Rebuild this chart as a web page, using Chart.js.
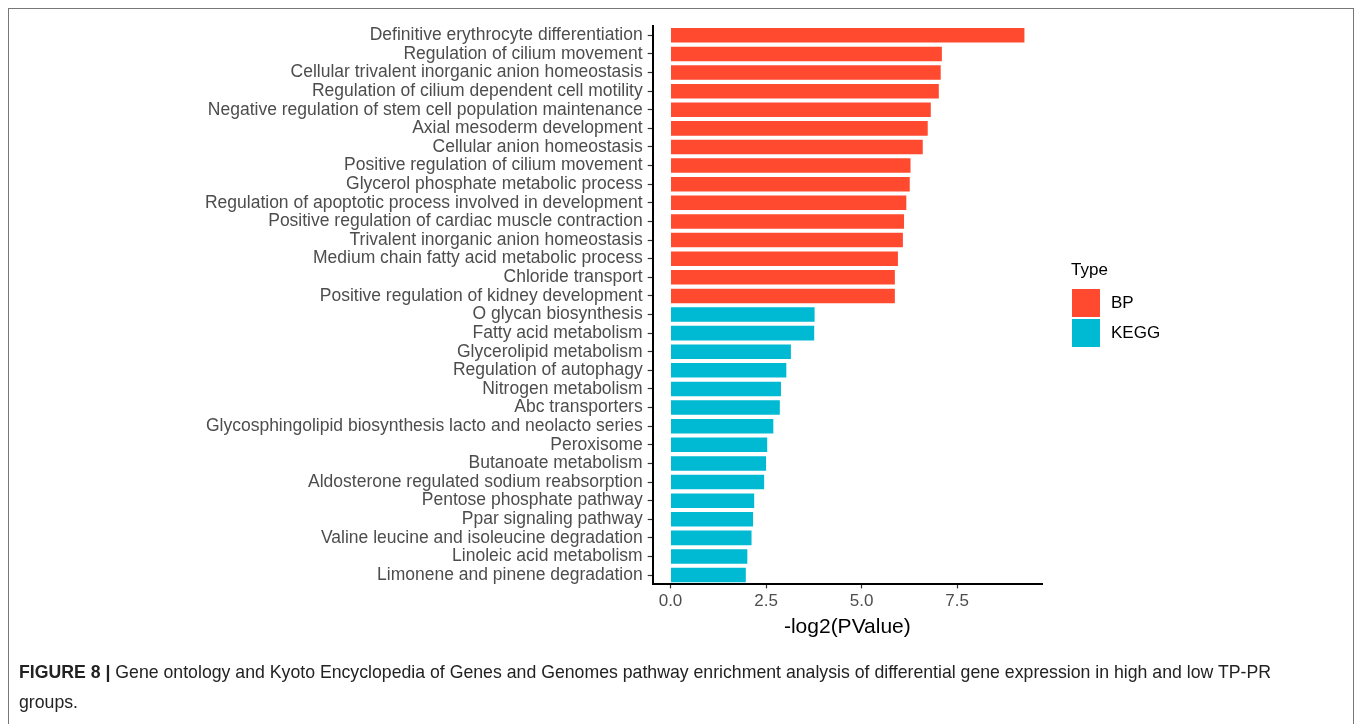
<!DOCTYPE html>
<html>
<head>
<meta charset="utf-8">
<title>Enrichment analysis</title>
<script src="https://cdn.jsdelivr.net/npm/chart.js@4.4.0/dist/chart.umd.min.js"></script>
<style>
    html, body { margin: 0; padding: 0; background: #fff; }
    body { width: 1355px; height: 724px; position: relative; overflow: hidden; font-family: "Liberation Sans", Arial, sans-serif; }
    #frame { position: absolute; left: 8px; top: 8px; width: 1344px; height: 740px; border: 1.5px solid #777; border-bottom: none; }
    #wrap { position: absolute; left: 0; top: 0; width: 1355px; height: 724px; }
    #caption { position: absolute; left: 19px; top: 657px; width: 1300px; font-size: 17.7px; line-height: 30px; color: #222; }
</style>
</head>
<body>
<div id="frame"></div>
<div id="wrap"><canvas id="chart"></canvas></div>
<div id="caption"><b>FIGURE 8 |</b> Gene ontology and Kyoto Encyclopedia of Genes and Genomes pathway enrichment analysis of differential gene expression in high and low TP-PR groups.</div>

<script>
const terms = [
    'Definitive erythrocyte differentiation',
    'Regulation of cilium movement',
    'Cellular trivalent inorganic anion homeostasis',
    'Regulation of cilium dependent cell motility',
    'Negative regulation of stem cell population maintenance',
    'Axial mesoderm development',
    'Cellular anion homeostasis',
    'Positive regulation of cilium movement',
    'Glycerol phosphate metabolic process',
    'Regulation of apoptotic process involved in development',
    'Positive regulation of cardiac muscle contraction',
    'Trivalent inorganic anion homeostasis',
    'Medium chain fatty acid metabolic process',
    'Chloride transport',
    'Positive regulation of kidney development',
    'O glycan biosynthesis',
    'Fatty acid metabolism',
    'Glycerolipid metabolism',
    'Regulation of autophagy',
    'Nitrogen metabolism',
    'Abc transporters',
    'Glycosphingolipid biosynthesis lacto and neolacto series',
    'Peroxisome',
    'Butanoate metabolism',
    'Aldosterone regulated sodium reabsorption',
    'Pentose phosphate pathway',
    'Ppar signaling pathway',
    'Valine leucine and isoleucine degradation',
    'Linoleic acid metabolism',
    'Limonene and pinene degradation'
];

const negLog2P = [
    9.26, 7.10, 7.07, 7.02, 6.81, 6.73, 6.60, 6.28, 6.26, 6.17,
    6.11, 6.08, 5.95, 5.87, 5.87, 3.77, 3.76, 3.15, 3.03, 2.89,
    2.86, 2.69, 2.53, 2.50, 2.45, 2.19, 2.16, 2.12, 2.01, 1.97
];

const types = [
    'BP', 'BP', 'BP', 'BP', 'BP', 'BP', 'BP', 'BP', 'BP', 'BP',
    'BP', 'BP', 'BP', 'BP', 'BP', 'KEGG', 'KEGG', 'KEGG', 'KEGG', 'KEGG',
    'KEGG', 'KEGG', 'KEGG', 'KEGG', 'KEGG', 'KEGG', 'KEGG', 'KEGG', 'KEGG', 'KEGG'
];

const typeNames = ['BP', 'KEGG'];
const typeColors = ['#FF4A2F', '#00B9D3'];
const xTicks = [0, 2.5, 5, 7.5];

const FONT = '"Liberation Sans", Arial, sans-serif';

// ggplot-style legend drawn next to the panel
const typeLegend = {
    id: 'typeLegend',
    afterDraw(chart) {
        const ctx = chart.ctx;
        ctx.save();
        ctx.fillStyle = '#000';
        ctx.font = `17px ${FONT}`;
        ctx.textBaseline = 'middle';
        ctx.textAlign = 'left';
        ctx.fillText('Type', 1071, 270);
        typeNames.forEach((name, i) => {
            const y = 289 + i * 30;
            ctx.fillStyle = typeColors[i];
            ctx.fillRect(1072, y, 28, 28);
            ctx.fillStyle = '#000';
            ctx.fillText(name, 1111, y + 14);
        });
        ctx.restore();
    }
};

new Chart(document.getElementById('chart'), {
    type: 'bar',
    data: {
        labels: terms,
        datasets: [{
            label: '-log2(PValue)',
            data: negLog2P,
            backgroundColor: types.map(t => typeColors[typeNames.indexOf(t)]),
            barPercentage: 0.78,
            categoryPercentage: 1
        }]
    },
    options: {
        indexAxis: 'y',
        responsive: true,
        maintainAspectRatio: false,
        animation: false,
        layout: {
            padding: { left: 0, top: 26, right: 313, bottom: 84 }
        },
        plugins: {
            legend: { display: false },
            tooltip: { enabled: false }
        },
        scales: {
            x: {
                type: 'linear',
                min: -0.466,
                max: 9.72,
                afterBuildTicks: scale => {
                    scale.ticks = xTicks.map(v => ({ value: v }));
                },
                afterFit: scale => { scale.height = 55.6; },
                grid: {
                    drawOnChartArea: false,
                    drawTicks: true,
                    tickLength: 4,
                    tickWidth: 1.2,
                    tickColor: '#333'
                },
                border: { display: true, color: '#000', width: 2 },
                ticks: {
                    color: '#4D4D4D',
                    font: { family: FONT, size: 17 },
                    padding: 3,
                    callback: v => Number(v).toFixed(1)
                },
                title: {
                    display: true,
                    text: '-log2(PValue)',
                    color: '#000',
                    font: { family: FONT, size: 21 },
                    padding: 0
                }
            },
            y: {
                type: 'category',
                afterFit: scale => { scale.width = 652.7; },
                grid: {
                    offset: false,
                    drawOnChartArea: false,
                    drawTicks: true,
                    tickLength: 5,
                    tickWidth: 1.2,
                    tickColor: '#333'
                },
                border: { display: true, color: '#000', width: 2 },
                ticks: {
                    color: '#4D4D4D',
                    font: { family: FONT, size: 17.5 },
                    padding: 5,
                    autoSkip: false
                }
            }
        }
    },
    plugins: [typeLegend]
});
</script>
</body>
</html>
